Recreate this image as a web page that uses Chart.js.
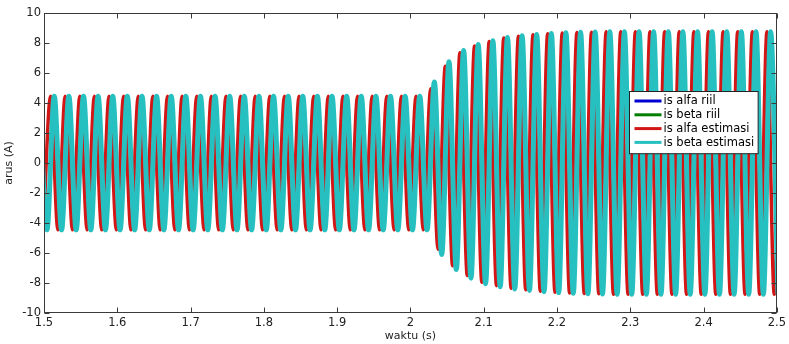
<!DOCTYPE html>
<html><head><meta charset="utf-8">
<script src="https://cdn.jsdelivr.net/npm/chart.js@4.4.0/dist/chart.umd.min.js"></script>
<style>html,body{margin:0;padding:0;background:#fff;}#wrap{width:789px;height:344px;}</style>
</head><body><div id="wrap"><canvas id="c" width="789" height="344"></canvas></div>
<script>
const seriesLabels = ['is alfa riil', 'is beta riil', 'is alfa estimasi', 'is beta estimasi'];
const xTickValues = [1.5, 1.6, 1.7, 1.8, 1.9, 2.0, 2.1, 2.2, 2.3, 2.4, 2.5];
const yTickValues = [-10, -8, -6, -4, -2, 0, 2, 4, 6, 8, 10];
const xTitle = 'waktu (s)';
const yTitle = 'arus (A)';

// extrema of is alfa (trough / peak alternating)
const alfaTimes = [
1.4990, 1.5090, 1.5190, 1.5289, 1.5389, 1.5489, 1.5589, 1.5688, 1.5788, 1.5888,
1.5988, 1.6087, 1.6187, 1.6287, 1.6387, 1.6486, 1.6586, 1.6686, 1.6786, 1.6885,
1.6985, 1.7085, 1.7185, 1.7284, 1.7384, 1.7484, 1.7584, 1.7683, 1.7783, 1.7883,
1.7983, 1.8082, 1.8182, 1.8282, 1.8382, 1.8481, 1.8581, 1.8681, 1.8781, 1.8880,
1.8980, 1.9080, 1.9180, 1.9279, 1.9379, 1.9479, 1.9579, 1.9678, 1.9778, 1.9878,
1.9978, 2.0077, 2.0177, 2.0277, 2.0377, 2.0476, 2.0576, 2.0676, 2.0776, 2.0875,
2.0975, 2.1075, 2.1175, 2.1274, 2.1374, 2.1474, 2.1574, 2.1673, 2.1773, 2.1873,
2.1973, 2.2072, 2.2172, 2.2272, 2.2372, 2.2471, 2.2571, 2.2671, 2.2771, 2.2870,
2.2970, 2.3070, 2.3170, 2.3269, 2.3369, 2.3469, 2.3569, 2.3668, 2.3768, 2.3868,
2.3968, 2.4067, 2.4167, 2.4267, 2.4367, 2.4466, 2.4566, 2.4666, 2.4766, 2.4865,
2.4965, 2.5065];
const alfaValues = [
-4.45, 4.45, -4.45, 4.45, -4.45, 4.45, -4.45, 4.45, -4.45, 4.45,
-4.45, 4.45, -4.45, 4.45, -4.45, 4.45, -4.45, 4.45, -4.45, 4.45,
-4.45, 4.45, -4.45, 4.45, -4.45, 4.45, -4.45, 4.45, -4.45, 4.45,
-4.45, 4.45, -4.45, 4.45, -4.45, 4.45, -4.45, 4.45, -4.45, 4.45,
-4.45, 4.45, -4.45, 4.45, -4.45, 4.45, -4.45, 4.45, -4.45, 4.45,
-4.45, 4.45, -4.45, 4.95, -5.75, 6.45, -6.85, 7.35, -7.5, 7.8,
-7.95, 8.1, -8.18, 8.33, -8.35, 8.45, -8.45, 8.55, -8.55, 8.62,
-8.62, 8.67, -8.67, 8.7, -8.7, 8.72, -8.72, 8.75, -8.75, 8.75,
-8.75, 8.75, -8.75, 8.75, -8.75, 8.75, -8.75, 8.75, -8.75, 8.75,
-8.75, 8.75, -8.75, 8.75, -8.75, 8.75, -8.75, 8.75, -8.75, 8.75,
-8.75, 8.75];

// extrema of is beta (peak / trough alternating)
const betaTimes = [
1.4940,
1.5040, 1.5140, 1.5240, 1.5339, 1.5439, 1.5539, 1.5639, 1.5738, 1.5838, 1.5938,
1.6038, 1.6137, 1.6237, 1.6337, 1.6437, 1.6536, 1.6636, 1.6736, 1.6836, 1.6935,
1.7035, 1.7135, 1.7235, 1.7334, 1.7434, 1.7534, 1.7634, 1.7733, 1.7833, 1.7933,
1.8033, 1.8132, 1.8232, 1.8332, 1.8432, 1.8531, 1.8631, 1.8731, 1.8831, 1.8930,
1.9030, 1.9130, 1.9230, 1.9329, 1.9429, 1.9529, 1.9629, 1.9728, 1.9828, 1.9928,
2.0028, 2.0127, 2.0227, 2.0327, 2.0427, 2.0526, 2.0626, 2.0726, 2.0826, 2.0925,
2.1025, 2.1125, 2.1225, 2.1324, 2.1424, 2.1524, 2.1624, 2.1723, 2.1823, 2.1923,
2.2023, 2.2122, 2.2222, 2.2322, 2.2422, 2.2521, 2.2621, 2.2721, 2.2821, 2.2920,
2.3020, 2.3120, 2.3220, 2.3319, 2.3419, 2.3519, 2.3619, 2.3718, 2.3818, 2.3918,
2.4018, 2.4117, 2.4217, 2.4317, 2.4417, 2.4516, 2.4616, 2.4716, 2.4816, 2.4915,
2.5015];
const betaValues = [
4.45,
-4.45, 4.45, -4.45, 4.45, -4.45, 4.45, -4.45, 4.45, -4.45, 4.45,
-4.45, 4.45, -4.45, 4.45, -4.45, 4.45, -4.45, 4.45, -4.45, 4.45,
-4.45, 4.45, -4.45, 4.45, -4.45, 4.45, -4.45, 4.45, -4.45, 4.45,
-4.45, 4.45, -4.45, 4.45, -4.45, 4.45, -4.45, 4.45, -4.45, 4.45,
-4.45, 4.45, -4.45, 4.45, -4.45, 4.45, -4.45, 4.45, -4.45, 4.45,
-4.45, 4.45, -4.45, 5.4, -6.1, 6.75, -7.1, 7.5, -7.68, 7.9,
-8.05, 8.15, -8.25, 8.36, -8.4, 8.48, -8.5, 8.57, -8.58, 8.64,
-8.64, 8.68, -8.68, 8.71, -8.71, 8.73, -8.73, 8.75, -8.75, 8.75,
-8.75, 8.75, -8.75, 8.75, -8.75, 8.75, -8.75, 8.75, -8.75, 8.75,
-8.75, 8.75, -8.75, 8.75, -8.75, 8.75, -8.75, 8.75, -8.75, 8.75,
-8.75];

const seriesColors = ['rgb(0,0,210)', 'rgb(0,128,0)', 'rgb(210,22,22)', 'rgb(38,192,192)'];
const seriesWidths = [1, 1, 3.5, 5];

const toPoints = (ts, vs) => ts.map((t, i) => ({x: t, y: vs[i]}));
const alfaPts = toPoints(alfaTimes, alfaValues);
const betaPts = toPoints(betaTimes, betaValues);
const seriesData = [alfaPts, betaPts, alfaPts, betaPts];

const FONT = "'DejaVu Sans', 'Liberation Sans', sans-serif";

const framePlugin = {
  id: 'frame',
  afterDatasetsDraw(chart) {
    const {ctx, chartArea: a, scales: {x, y}} = chart;
    ctx.save();
    ctx.strokeStyle = '#3a3a3a';
    ctx.lineWidth = 1;
    const L = Math.round(a.left) + 0.5, R = Math.round(a.right) - 0.5;
    const T = Math.round(a.top) + 0.5, B = Math.round(a.bottom) - 0.5;
    ctx.strokeRect(L, T, R - L, B - T);
    const len = 5;
    ctx.beginPath();
    x.ticks.forEach(t => {
      const px = Math.round(x.getPixelForValue(t.value)) + 0.5;
      ctx.moveTo(px, B); ctx.lineTo(px, B - len);
      ctx.moveTo(px, T); ctx.lineTo(px, T + len);
    });
    y.ticks.forEach(t => {
      const py = Math.round(y.getPixelForValue(t.value)) + 0.5;
      ctx.moveTo(L, py); ctx.lineTo(L + len, py);
      ctx.moveTo(R, py); ctx.lineTo(R - len, py);
    });
    ctx.stroke();
    ctx.restore();
  }
};

const legendPlugin = {
  id: 'boxLegend',
  afterDraw(chart) {
    const {ctx} = chart;
    ctx.save();
    ctx.font = '11.5px ' + FONT;
    const labels = chart.data.datasets.map(d => d.label);
    const maxW = Math.max(...labels.map(l => ctx.measureText(l).width));
    const left = 629.5, top = 91.5;
    const lineLen = 27, gap = 2, padL = 5, rowH = 13.8;
    const w = padL + lineLen + gap + maxW + 4;
    const h = 4 * rowH + 7;
    ctx.fillStyle = '#fff';
    ctx.fillRect(left, top, w, h);
    ctx.strokeStyle = '#222';
    ctx.lineWidth = 1;
    ctx.strokeRect(left, top, w, h);
    chart.data.datasets.forEach((d, i) => {
      const cy = top + 9.5 + i * rowH;
      ctx.strokeStyle = d.borderColor;
      ctx.lineWidth = 3;
      ctx.beginPath();
      ctx.moveTo(left + padL, cy); ctx.lineTo(left + padL + lineLen, cy);
      ctx.stroke();
      ctx.fillStyle = '#000';
      ctx.textBaseline = 'middle';
      ctx.fillText(d.label, left + padL + lineLen + gap, cy + 0.5);
    });
    ctx.restore();
  }
};

new Chart(document.getElementById('c'), {
  type: 'line',
  data: {
    datasets: seriesLabels.map((lab, i) => ({
      label: lab,
      data: seriesData[i],
      borderColor: seriesColors[i],
      backgroundColor: seriesColors[i],
      borderWidth: seriesWidths[i],
      pointRadius: 0,
      fill: false,
      cubicInterpolationMode: 'monotone',
      clip: 0,
      order: 3 - i
    }))
  },
  options: {
    responsive: false,
    devicePixelRatio: 1,
    animation: false,
    parsing: false,
    layout: {padding: {top: 13, right: 11, left: 0, bottom: 0}},
    plugins: {legend: {display: false}, tooltip: {enabled: false}},
    scales: {
      x: {
        type: 'linear', min: 1.5, max: 2.5,
        afterBuildTicks: s => { s.ticks = xTickValues.map(v => ({value: v})); },
        afterFit: s => { s.height = 31; },
        grid: {display: false, drawTicks: false},
        border: {display: false},
        ticks: {
          font: {size: 11.5, family: FONT}, color: '#222', padding: 3,
          maxRotation: 0, autoSkip: false,
          callback: v => String(Math.round(v * 10) / 10)
        },
        title: {display: true, text: xTitle, font: {size: 11, family: FONT}, color: '#222', padding: {top: 0, bottom: 1}}
      },
      y: {
        type: 'linear', min: -10, max: 10,
        afterBuildTicks: s => { s.ticks = yTickValues.map(v => ({value: v})); },
        afterFit: s => { s.width = 44; },
        grid: {display: false, drawTicks: false},
        border: {display: false},
        ticks: {font: {size: 11.5, family: FONT}, color: '#222', padding: 3, autoSkip: false},
        title: {display: true, text: yTitle, font: {size: 11, family: FONT}, color: '#222', padding: {top: 3, bottom: 0}}
      }
    }
  },
  plugins: [framePlugin, legendPlugin]
});
</script>
</body></html>
